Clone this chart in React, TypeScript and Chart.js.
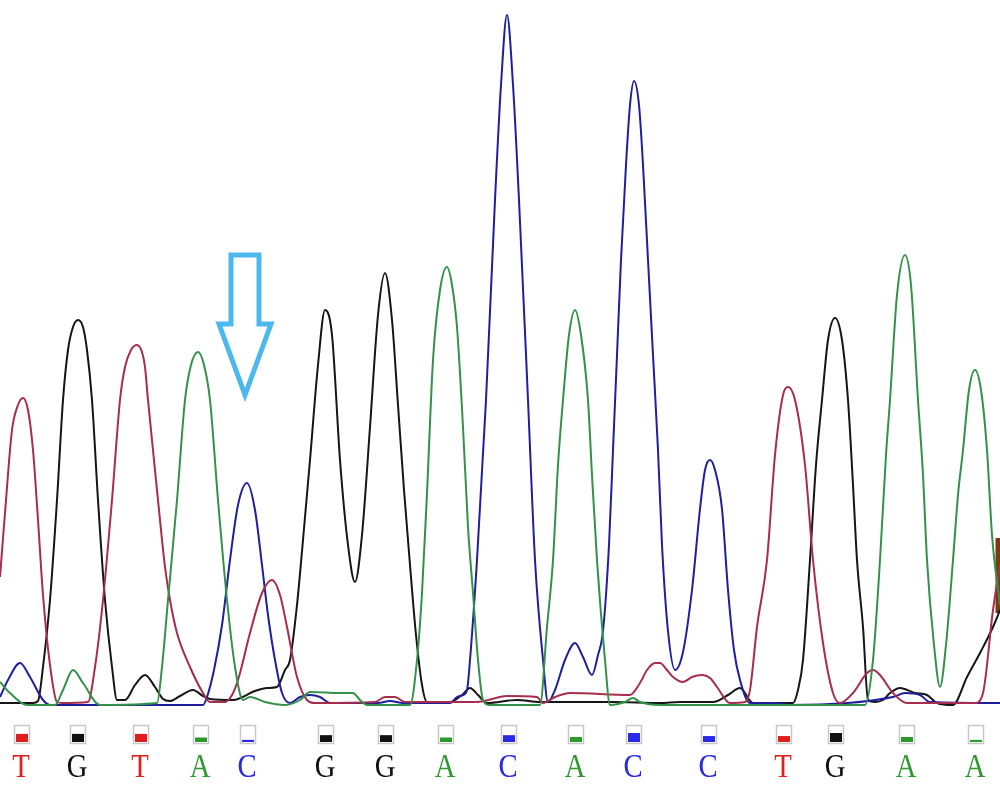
import React, { useEffect, useRef } from "react";
import { Chart, registerables } from "chart.js";

Chart.register(...registerables);

// Base calls
const baseLetters = ["T", "G", "T", "A", "C", "G", "G", "A", "C", "A", "C", "C", "T", "G", "A", "A"];
const basePositions = [21, 77, 140, 200, 247, 325, 385, 445, 508, 575, 633, 708, 783, 835, 906, 975];
const baseQuality = [45, 45, 45, 25, 12, 38, 38, 25, 38, 28, 50, 33, 33, 50, 28, 12];
const arrowBaseIndex = 4;

// Traces: [scan position, signal]
const traceG: number[][] = [
  [0, 2], [20, 2], [33, 2], [38, 4], [43, 38], [50, 105], [57, 205], [63, 305], [68, 355], [73, 378],
  [78, 385], [83, 378], [87, 355], [92, 305], [98, 205], [105, 105], [112, 38], [117, 5], [125, 5],
  [135, 20], [145, 30], [155, 18], [163, 6], [170, 4], [180, 9], [193, 15], [203, 9], [210, 6], [233, 5],
  [255, 14], [267, 17], [277, 18], [285, 35], [290, 45], [297, 100], [303, 165], [310, 245], [318, 340],
  [325, 395], [332, 370], [340, 245], [348, 160], [355, 123], [362, 170], [370, 278], [378, 390], [385, 432],
  [392, 385], [398, 300], [404, 215], [410, 140], [416, 70], [422, 20], [427, 3], [450, 3], [462, 10],
  [470, 17], [478, 10], [487, 2], [517, 5], [540, 3], [593, 3], [613, 3], [660, 2], [680, 3], [713, 3],
  [728, 10], [740, 17], [753, 2], [793, 2], [798, 15], [803, 45], [810, 145], [816, 240], [822, 305],
  [828, 365], [835, 387], [842, 365], [848, 305], [853, 220], [857, 145], [863, 78], [868, 5], [875, 3],
  [883, 5], [890, 12], [900, 17], [915, 12], [927, 10], [937, 2], [953, 0], [967, 28], [980, 52],
  [993, 78], [1000, 95],
];

const traceT: number[][] = [
  [0, 128], [5, 192], [12, 275], [18, 300], [23, 307], [28, 295], [33, 255], [38, 185], [43, 110],
  [50, 40], [57, 3], [62, 2], [88, 3], [95, 38], [103, 105], [112, 205], [120, 305], [125, 338], [131, 355],
  [137, 360], [142, 353], [145, 338], [148, 305], [158, 205], [165, 138], [170, 105], [177, 72], [190, 38],
  [203, 12], [210, 3], [225, 3], [232, 10], [238, 25], [250, 72], [262, 112], [272, 125], [280, 110],
  [287, 78], [297, 28], [307, 5], [315, 2], [375, 3], [385, 8], [395, 8], [405, 3], [477, 3], [507, 9],
  [537, 8], [543, 2], [555, 8], [570, 12], [630, 10], [640, 22], [647, 35], [655, 42], [660, 42], [667, 35],
  [673, 28], [683, 23], [692, 28], [702, 30], [710, 27], [717, 18], [730, 2], [745, 3], [750, 15],
  [757, 78], [767, 145], [775, 250], [783, 310], [788, 318], [795, 305], [805, 240], [813, 145], [823, 62],
  [833, 12], [840, 2], [853, 12], [867, 32], [873, 35], [880, 30], [893, 12], [907, 2], [975, 2],
  [983, 12], [993, 95], [1000, 140],
];

const traceA: number[][] = [
  [0, 23], [10, 12], [27, 0], [55, 0], [63, 15], [73, 35], [83, 22], [100, 0], [157, 2], [162, 38],
  [168, 105], [177, 205], [185, 305], [191, 340], [198, 353], [204, 340], [210, 305], [218, 205], [227, 105],
  [235, 38], [243, 5], [250, 8], [265, 3], [285, 0], [300, 5], [310, 13], [340, 12], [353, 12], [360, 5],
  [367, 0], [410, 0], [417, 45], [422, 112], [427, 212], [433, 345], [440, 415], [447, 438], [452, 420],
  [457, 378], [463, 278], [468, 178], [473, 112], [478, 45], [483, 5], [490, 0], [540, 0], [547, 78],
  [553, 145], [558, 240], [563, 305], [569, 370], [575, 395], [581, 370], [588, 305], [592, 230], [597, 145],
  [605, 45], [610, 0], [625, 3], [633, 7], [640, 3], [660, 0], [865, 0], [873, 45], [880, 145], [886, 250],
  [890, 305], [897, 410], [905, 450], [911, 420], [918, 305], [923, 230], [927, 145], [934, 60], [940, 18],
  [946, 60], [953, 145], [958, 210], [963, 255], [969, 315], [975, 335], [981, 315], [987, 255], [992, 170],
  [1000, 100],
];

const traceC: number[][] = [
  [0, 8], [8, 25], [20, 42], [30, 28], [43, 5], [50, 0], [203, 0], [207, 8], [214, 35], [222, 80],
  [230, 145], [238, 200], [247, 222], [255, 195], [262, 140], [268, 90], [275, 45], [282, 12], [290, 2],
  [300, 8], [310, 10], [320, 8], [330, 2], [378, 2], [390, 4], [403, 2], [450, 2], [457, 8], [463, 10],
  [467, 15], [470, 45], [477, 145], [486, 305], [495, 505], [501, 620], [507, 690], [513, 620], [519, 505],
  [528, 305], [535, 145], [543, 45], [548, 3], [555, 15], [565, 45], [575, 62], [583, 48], [592, 30],
  [598, 50], [603, 74], [609, 160], [613, 255], [617, 350], [621, 445], [626, 540], [630, 600], [634, 624],
  [639, 600], [643, 540], [648, 445], [653, 350], [658, 255], [662, 160], [668, 74], [675, 35], [683, 53],
  [692, 115], [700, 196], [705, 235], [710, 245], [715, 235], [722, 196], [728, 115], [734, 55], [740, 25],
  [750, 2], [777, 2], [790, 0], [893, 8], [905, 12], [920, 10], [930, 3], [1000, 2],
];

const traceEdge: number[][] = [[998, 92], [998, 167]];

const baseColors: Record<string, string> = { T: "#e01e1e", G: "#111111", A: "#2e9a2e", C: "#2a2ae6" };
const traceColors = { G: "#151515", A: "#33924a", T: "#a82c4c", C: "#1f1f9e", edge: "#7b3b12" };

const toXY = (arr: number[][]) => arr.map(([x, y]) => ({ x, y }));

export default function App() {
  const ref = useRef<HTMLCanvasElement | null>(null);

  useEffect(() => {
    document.body.style.margin = "0";
    const canvas = ref.current;
    if (!canvas) return;

    const basePlugin = {
      id: "basecalls",
      afterDraw(chart: any) {
        const ctx = chart.ctx;
        const xs = chart.scales.x;
        const ys = chart.scales.y;
        ctx.save();
        basePositions.forEach((pos, i) => {
          const letter = baseLetters[i];
          const cx = xs.getPixelForValue(pos);
          const col = baseColors[letter];
          // quality box
          const bw = 15, bh = 18;
          const bx = Math.round(cx - bw / 2) + 0.5;
          const by = 725.5;
          ctx.strokeStyle = "#c8c8c8";
          ctx.lineWidth = 1.5;
          ctx.strokeRect(bx, by, bw, bh);
          const fh = Math.max(2, (baseQuality[i] / 100) * bh);
          ctx.fillStyle = col;
          ctx.fillRect(bx + 1.5, by + bh - 1.5 - fh, bw - 3, fh);
          // letter
          ctx.save();
          ctx.translate(cx, 777);
          ctx.scale(0.87, 1);
          ctx.fillStyle = col;
          ctx.font = '33px "Liberation Serif", serif';
          ctx.textAlign = "center";
          ctx.textBaseline = "alphabetic";
          ctx.fillText(letter, 0, 0);
          ctx.restore();
        });

        // arrow pointing at the mixed base
        const tipX = xs.getPixelForValue(basePositions[arrowBaseIndex]) - 2;
        const topY = ys.getPixelForValue(450);
        const neckY = ys.getPixelForValue(381);
        const tipY = ys.getPixelForValue(310);
        const sw = 14, hw = 26;
        ctx.beginPath();
        ctx.moveTo(tipX - sw, topY);
        ctx.lineTo(tipX + sw, topY);
        ctx.lineTo(tipX + sw, neckY);
        ctx.lineTo(tipX + hw, neckY);
        ctx.lineTo(tipX, tipY);
        ctx.lineTo(tipX - hw, neckY);
        ctx.lineTo(tipX - sw, neckY);
        ctx.closePath();
        ctx.strokeStyle = "#4cb8ee";
        ctx.lineWidth = 5;
        ctx.lineJoin = "miter";
        ctx.stroke();
        ctx.restore();
      },
    };

    const mk = (data: number[][], color: string, width = 2) => ({
      data: toXY(data),
      borderColor: color,
      borderWidth: width,
      pointRadius: 0,
      fill: false,
      cubicInterpolationMode: "monotone" as const,
    });

    const chart = new Chart(canvas, {
      type: "line",
      data: {
        datasets: [
          mk(traceA, traceColors.A),
          mk(traceT, traceColors.T),
          mk(traceC, traceColors.C),
          mk(traceG, traceColors.G),
          mk(traceEdge, traceColors.edge, 5),
        ],
      },
      options: {
        animation: false,
        responsive: false,
        maintainAspectRatio: false,
        layout: { padding: 0 },
        parsing: false as any,
        scales: {
          x: { type: "linear", min: 0, max: 1000, display: false },
          y: { type: "linear", min: -80, max: 705, display: false },
        },
        plugins: { legend: { display: false }, tooltip: { enabled: false } },
      },
      plugins: [basePlugin],
    });
    return () => chart.destroy();
  }, []);

  return (
    <div style={{ width: 1000, height: 785, background: "#ffffff" }}>
      <canvas ref={ref} width={1000} height={785} style={{ display: "block" }} />
    </div>
  );
}
